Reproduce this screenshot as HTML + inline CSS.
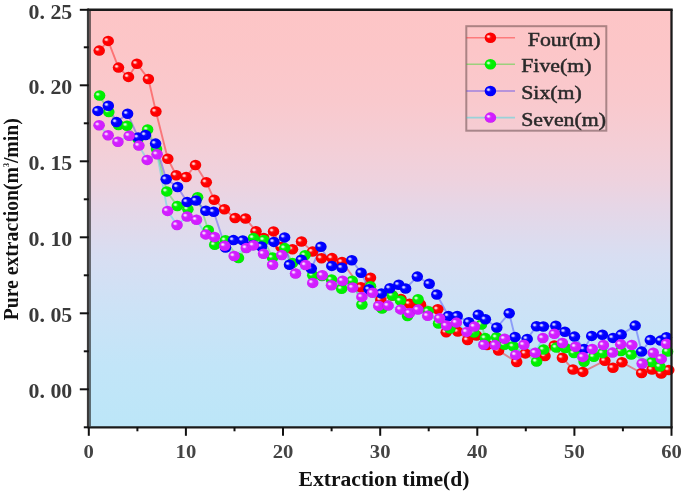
<!DOCTYPE html>
<html><head><meta charset="utf-8"><style>
html,body{margin:0;padding:0;background:#fff;}
body{width:685px;height:493px;overflow:hidden;position:relative;}
svg{position:absolute;left:0;top:0;filter:blur(0.5px);}
text{font-family:"Liberation Serif",serif;}
</style></head><body>
<svg width="685" height="493" viewBox="0 0 685 493">
<defs>
<linearGradient id="bg" x1="0" y1="0" x2="0" y2="1">
<stop offset="0" stop-color="#fdc5c6"/>
<stop offset="0.1" stop-color="#fcc6c8"/>
<stop offset="0.22" stop-color="#f9c9cd"/>
<stop offset="0.325" stop-color="#f4ced6"/>
<stop offset="0.408" stop-color="#eed2de"/>
<stop offset="0.47" stop-color="#e6d6e6"/>
<stop offset="0.59" stop-color="#d8def2"/>
<stop offset="0.71" stop-color="#cde2f6"/>
<stop offset="0.85" stop-color="#c2e5f8"/>
<stop offset="1" stop-color="#bce6f8"/>
</linearGradient>
<radialGradient id="hl" cx="0.5" cy="0.5" r="0.5">
<stop offset="0" stop-color="#ffffff" stop-opacity="0.9"/>
<stop offset="0.4" stop-color="#ffffff" stop-opacity="0.65"/>
<stop offset="1" stop-color="#ffffff" stop-opacity="0"/>
</radialGradient>
<radialGradient id="sr" cx="0.5" cy="0.5" r="0.5" fx="0.36" fy="0.38">
<stop offset="0" stop-color="#ff4040"/>
<stop offset="0.45" stop-color="#ff0000"/>
<stop offset="0.9" stop-color="#ff0000"/>
<stop offset="1" stop-color="#e60000"/>
</radialGradient>
<g id="mr"><ellipse cx="0" cy="0" rx="5.75" ry="5.25" fill="url(#sr)"/><ellipse cx="-2.0" cy="-1.3" rx="2.4" ry="2.0" fill="url(#hl)"/></g>
<radialGradient id="sg" cx="0.5" cy="0.5" r="0.5" fx="0.36" fy="0.38">
<stop offset="0" stop-color="#40f440"/>
<stop offset="0.45" stop-color="#00f000"/>
<stop offset="0.9" stop-color="#00f000"/>
<stop offset="1" stop-color="#00d300"/>
</radialGradient>
<g id="mg"><ellipse cx="0" cy="0" rx="5.75" ry="5.25" fill="url(#sg)"/><ellipse cx="-2.0" cy="-1.3" rx="2.4" ry="2.0" fill="url(#hl)"/></g>
<radialGradient id="sb" cx="0.5" cy="0.5" r="0.5" fx="0.36" fy="0.38">
<stop offset="0" stop-color="#4040ff"/>
<stop offset="0.45" stop-color="#0000ff"/>
<stop offset="0.9" stop-color="#0000ff"/>
<stop offset="1" stop-color="#0000df"/>
</radialGradient>
<g id="mb"><ellipse cx="0" cy="0" rx="5.75" ry="5.25" fill="url(#sb)"/><ellipse cx="-2.0" cy="-1.3" rx="2.4" ry="2.0" fill="url(#hl)"/></g>
<radialGradient id="sp" cx="0.5" cy="0.5" r="0.5" fx="0.36" fy="0.38">
<stop offset="0" stop-color="#dd56ff"/>
<stop offset="0.45" stop-color="#d21eff"/>
<stop offset="0.9" stop-color="#d21eff"/>
<stop offset="1" stop-color="#b812e6"/>
</radialGradient>
<g id="mp"><ellipse cx="0" cy="0" rx="5.75" ry="5.25" fill="url(#sp)"/><ellipse cx="-2.0" cy="-1.3" rx="2.4" ry="2.0" fill="url(#hl)"/></g>
</defs>
<rect x="88.8" y="9.3" width="582.7" height="418.0" fill="url(#bg)"/>
<polyline points="99.2,50.6 108.2,40.9 118.5,67.6 128.5,76.9 136.9,63.7 148.4,79.0 155.9,111.5 167.8,158.8 176.2,175.2 186.1,177.0 195.5,165.0 206.3,182.2 214.2,199.7 224.4,209.3 235.1,218.0 245.5,218.5 256.0,231.2 263.7,238.0 273.5,231.4 281.0,247.0 292.5,249.2 301.5,241.5 312.5,251.6 321.5,258.2 332.0,258.1 342.0,262.0 360.9,287.3 370.5,277.8 380.8,299.9 392.4,295.5 401.0,299.0 409.5,303.8 420.5,304.5 437.8,309.3 446.2,332.3 457.8,331.6 467.6,340.0 476.5,335.5 487.0,345.0 498.6,350.6 516.7,362.0 525.4,353.4 545.0,356.0 554.3,345.5 562.4,357.7 573.0,369.5 582.8,371.9 604.9,360.7 613.0,367.8 622.0,362.3 641.6,373.0 652.0,369.5 661.2,373.5 668.8,370.0" fill="none" stroke="#ff0000" stroke-opacity="0.42" stroke-width="1.9"/>
<polyline points="99.6,95.5 108.8,112.0 118.5,125.0 127.0,125.7 138.0,139.0 147.6,129.5 156.5,149.0 166.8,191.4 177.3,206.0 187.9,209.2 197.6,197.3 208.3,230.0 214.7,244.8 225.4,240.2 238.5,258.0 253.5,237.9 263.9,239.9 272.5,257.5 284.8,248.1 292.5,263.0 305.0,255.2 312.7,275.3 322.0,276.0 331.5,279.5 341.6,288.8 352.2,280.8 361.9,304.5 370.5,286.2 382.0,308.5 392.4,295.5 400.5,300.6 407.5,316.0 418.0,299.3 428.2,311.2 438.5,323.5 450.0,328.5 474.0,332.6 481.5,324.5 485.3,338.1 496.5,337.3 504.5,344.8 513.2,346.3 536.6,361.5 543.6,349.5 556.3,347.5 565.4,348.0 574.0,353.1 584.1,361.7 593.8,356.7 602.7,353.1 621.0,351.0 631.2,354.5 652.0,362.0 660.0,366.6 667.6,351.6" fill="none" stroke="#00e000" stroke-opacity="0.33" stroke-width="1.9"/>
<polyline points="97.9,110.9 108.3,105.7 116.5,122.1 127.6,113.8 138.1,137.4 145.5,135.0 155.6,143.6 166.2,179.2 177.6,187.0 187.1,201.9 196.0,200.5 205.8,210.8 213.7,211.8 225.5,247.5 233.5,240.1 242.8,240.4 253.0,245.0 261.5,246.5 273.9,241.9 284.6,237.4 289.5,264.8 301.3,259.7 311.3,268.6 320.9,246.8 331.8,265.9 342.0,267.7 351.8,260.2 361.1,272.8 369.0,289.3 381.4,293.4 389.9,288.2 398.8,284.7 405.6,288.5 417.3,276.6 429.2,283.8 436.8,294.5 448.4,316.0 457.2,316.0 468.8,322.2 478.3,314.7 485.4,319.3 496.8,327.5 509.2,313.3 515.0,337.0 527.2,338.9 536.5,326.3 543.4,326.5 555.8,325.7 564.9,331.8 574.5,336.6 584.1,349.1 591.7,335.9 602.4,334.8 613.0,337.9 621.2,334.6 635.2,325.6 641.6,351.6 650.3,340.1 660.7,340.6 666.4,337.2" fill="none" stroke="#1010ff" stroke-opacity="0.33" stroke-width="1.9"/>
<polyline points="99.1,125.2 108.1,135.2 117.9,141.7 129.2,135.7 138.9,145.6 147.2,159.9 157.1,154.2 167.6,210.9 177.0,225.0 187.1,216.5 196.5,219.8 205.8,234.4 214.5,237.0 224.7,245.8 234.2,256.0 246.3,248.0 253.4,245.3 263.5,253.7 272.6,264.7 281.8,255.0 295.5,273.5 305.5,265.0 312.7,282.9 322.3,275.3 331.5,285.2 342.6,280.7 352.7,287.5 361.9,296.9 372.5,292.8 378.7,305.8 388.1,305.6 400.7,309.4 409.5,313.0 418.0,309.6 427.7,315.8 439.6,318.3 446.4,325.6 456.4,322.6 466.7,331.9 474.4,326.5 483.8,344.7 495.0,345.1 504.6,338.7 515.7,354.9 523.9,344.8 535.3,352.8 542.9,338.0 554.3,333.8 562.4,343.0 575.5,346.7 582.8,356.9 592.2,349.0 603.4,345.0 612.5,352.6 620.7,344.2 631.8,344.9 642.2,363.5 653.2,352.7 661.2,358.9 666.4,343.7" fill="none" stroke="#00e0e8" stroke-opacity="0.33" stroke-width="1.9"/>
<use href="#mr" x="99.2" y="50.6"/><use href="#mr" x="108.2" y="40.9"/><use href="#mr" x="118.5" y="67.6"/><use href="#mr" x="128.5" y="76.9"/><use href="#mr" x="136.9" y="63.7"/><use href="#mr" x="148.4" y="79.0"/><use href="#mr" x="155.9" y="111.5"/><use href="#mr" x="167.8" y="158.8"/><use href="#mr" x="176.2" y="175.2"/><use href="#mr" x="186.1" y="177.0"/><use href="#mr" x="195.5" y="165.0"/><use href="#mr" x="206.3" y="182.2"/><use href="#mr" x="214.2" y="199.7"/><use href="#mr" x="224.4" y="209.3"/><use href="#mr" x="235.1" y="218.0"/><use href="#mr" x="245.5" y="218.5"/><use href="#mr" x="256.0" y="231.2"/><use href="#mr" x="263.7" y="238.0"/><use href="#mr" x="273.5" y="231.4"/><use href="#mr" x="281.0" y="247.0"/><use href="#mr" x="292.5" y="249.2"/><use href="#mr" x="301.5" y="241.5"/><use href="#mr" x="312.5" y="251.6"/><use href="#mr" x="321.5" y="258.2"/><use href="#mr" x="332.0" y="258.1"/><use href="#mr" x="342.0" y="262.0"/><use href="#mr" x="360.9" y="287.3"/><use href="#mr" x="370.5" y="277.8"/><use href="#mr" x="380.8" y="299.9"/><use href="#mr" x="392.4" y="295.5"/><use href="#mr" x="401.0" y="299.0"/><use href="#mr" x="409.5" y="303.8"/><use href="#mr" x="420.5" y="304.5"/><use href="#mr" x="437.8" y="309.3"/><use href="#mr" x="446.2" y="332.3"/><use href="#mr" x="457.8" y="331.6"/><use href="#mr" x="467.6" y="340.0"/><use href="#mr" x="476.5" y="335.5"/><use href="#mr" x="487.0" y="345.0"/><use href="#mr" x="498.6" y="350.6"/><use href="#mr" x="516.7" y="362.0"/><use href="#mr" x="525.4" y="353.4"/><use href="#mr" x="545.0" y="356.0"/><use href="#mr" x="554.3" y="345.5"/><use href="#mr" x="562.4" y="357.7"/><use href="#mr" x="573.0" y="369.5"/><use href="#mr" x="582.8" y="371.9"/><use href="#mr" x="604.9" y="360.7"/><use href="#mr" x="613.0" y="367.8"/><use href="#mr" x="622.0" y="362.3"/><use href="#mr" x="641.6" y="373.0"/><use href="#mr" x="652.0" y="369.5"/><use href="#mr" x="661.2" y="373.5"/><use href="#mr" x="668.8" y="370.0"/>
<use href="#mg" x="99.6" y="95.5"/><use href="#mg" x="108.8" y="112.0"/><use href="#mg" x="118.5" y="125.0"/><use href="#mg" x="127.0" y="125.7"/><use href="#mg" x="138.0" y="139.0"/><use href="#mg" x="147.6" y="129.5"/><use href="#mg" x="156.5" y="149.0"/><use href="#mg" x="166.8" y="191.4"/><use href="#mg" x="177.3" y="206.0"/><use href="#mg" x="187.9" y="209.2"/><use href="#mg" x="197.6" y="197.3"/><use href="#mg" x="208.3" y="230.0"/><use href="#mg" x="214.7" y="244.8"/><use href="#mg" x="225.4" y="240.2"/><use href="#mg" x="238.5" y="258.0"/><use href="#mg" x="253.5" y="237.9"/><use href="#mg" x="263.9" y="239.9"/><use href="#mg" x="272.5" y="257.5"/><use href="#mg" x="284.8" y="248.1"/><use href="#mg" x="292.5" y="263.0"/><use href="#mg" x="305.0" y="255.2"/><use href="#mg" x="312.7" y="275.3"/><use href="#mg" x="322.0" y="276.0"/><use href="#mg" x="331.5" y="279.5"/><use href="#mg" x="341.6" y="288.8"/><use href="#mg" x="352.2" y="280.8"/><use href="#mg" x="361.9" y="304.5"/><use href="#mg" x="370.5" y="286.2"/><use href="#mg" x="382.0" y="308.5"/><use href="#mg" x="392.4" y="295.5"/><use href="#mg" x="400.5" y="300.6"/><use href="#mg" x="407.5" y="316.0"/><use href="#mg" x="418.0" y="299.3"/><use href="#mg" x="428.2" y="311.2"/><use href="#mg" x="438.5" y="323.5"/><use href="#mg" x="450.0" y="328.5"/><use href="#mg" x="474.0" y="332.6"/><use href="#mg" x="481.5" y="324.5"/><use href="#mg" x="485.3" y="338.1"/><use href="#mg" x="496.5" y="337.3"/><use href="#mg" x="504.5" y="344.8"/><use href="#mg" x="513.2" y="346.3"/><use href="#mg" x="536.6" y="361.5"/><use href="#mg" x="543.6" y="349.5"/><use href="#mg" x="556.3" y="347.5"/><use href="#mg" x="565.4" y="348.0"/><use href="#mg" x="574.0" y="353.1"/><use href="#mg" x="584.1" y="361.7"/><use href="#mg" x="593.8" y="356.7"/><use href="#mg" x="602.7" y="353.1"/><use href="#mg" x="621.0" y="351.0"/><use href="#mg" x="631.2" y="354.5"/><use href="#mg" x="652.0" y="362.0"/><use href="#mg" x="660.0" y="366.6"/><use href="#mg" x="667.6" y="351.6"/>
<use href="#mb" x="97.9" y="110.9"/><use href="#mb" x="108.3" y="105.7"/><use href="#mb" x="116.5" y="122.1"/><use href="#mb" x="127.6" y="113.8"/><use href="#mb" x="138.1" y="137.4"/><use href="#mb" x="145.5" y="135.0"/><use href="#mb" x="155.6" y="143.6"/><use href="#mb" x="166.2" y="179.2"/><use href="#mb" x="177.6" y="187.0"/><use href="#mb" x="187.1" y="201.9"/><use href="#mb" x="196.0" y="200.5"/><use href="#mb" x="205.8" y="210.8"/><use href="#mb" x="213.7" y="211.8"/><use href="#mb" x="225.5" y="247.5"/><use href="#mb" x="233.5" y="240.1"/><use href="#mb" x="242.8" y="240.4"/><use href="#mb" x="253.0" y="245.0"/><use href="#mb" x="261.5" y="246.5"/><use href="#mb" x="273.9" y="241.9"/><use href="#mb" x="284.6" y="237.4"/><use href="#mb" x="289.5" y="264.8"/><use href="#mb" x="301.3" y="259.7"/><use href="#mb" x="311.3" y="268.6"/><use href="#mb" x="320.9" y="246.8"/><use href="#mb" x="331.8" y="265.9"/><use href="#mb" x="342.0" y="267.7"/><use href="#mb" x="351.8" y="260.2"/><use href="#mb" x="361.1" y="272.8"/><use href="#mb" x="369.0" y="289.3"/><use href="#mb" x="381.4" y="293.4"/><use href="#mb" x="389.9" y="288.2"/><use href="#mb" x="398.8" y="284.7"/><use href="#mb" x="405.6" y="288.5"/><use href="#mb" x="417.3" y="276.6"/><use href="#mb" x="429.2" y="283.8"/><use href="#mb" x="436.8" y="294.5"/><use href="#mb" x="448.4" y="316.0"/><use href="#mb" x="457.2" y="316.0"/><use href="#mb" x="468.8" y="322.2"/><use href="#mb" x="478.3" y="314.7"/><use href="#mb" x="485.4" y="319.3"/><use href="#mb" x="496.8" y="327.5"/><use href="#mb" x="509.2" y="313.3"/><use href="#mb" x="515.0" y="337.0"/><use href="#mb" x="527.2" y="338.9"/><use href="#mb" x="536.5" y="326.3"/><use href="#mb" x="543.4" y="326.5"/><use href="#mb" x="555.8" y="325.7"/><use href="#mb" x="564.9" y="331.8"/><use href="#mb" x="574.5" y="336.6"/><use href="#mb" x="584.1" y="349.1"/><use href="#mb" x="591.7" y="335.9"/><use href="#mb" x="602.4" y="334.8"/><use href="#mb" x="613.0" y="337.9"/><use href="#mb" x="621.2" y="334.6"/><use href="#mb" x="635.2" y="325.6"/><use href="#mb" x="641.6" y="351.6"/><use href="#mb" x="650.3" y="340.1"/><use href="#mb" x="660.7" y="340.6"/><use href="#mb" x="666.4" y="337.2"/>
<use href="#mp" x="99.1" y="125.2"/><use href="#mp" x="108.1" y="135.2"/><use href="#mp" x="117.9" y="141.7"/><use href="#mp" x="129.2" y="135.7"/><use href="#mp" x="138.9" y="145.6"/><use href="#mp" x="147.2" y="159.9"/><use href="#mp" x="157.1" y="154.2"/><use href="#mp" x="167.6" y="210.9"/><use href="#mp" x="177.0" y="225.0"/><use href="#mp" x="187.1" y="216.5"/><use href="#mp" x="196.5" y="219.8"/><use href="#mp" x="205.8" y="234.4"/><use href="#mp" x="214.5" y="237.0"/><use href="#mp" x="224.7" y="245.8"/><use href="#mp" x="234.2" y="256.0"/><use href="#mp" x="246.3" y="248.0"/><use href="#mp" x="253.4" y="245.3"/><use href="#mp" x="263.5" y="253.7"/><use href="#mp" x="272.6" y="264.7"/><use href="#mp" x="281.8" y="255.0"/><use href="#mp" x="295.5" y="273.5"/><use href="#mp" x="305.5" y="265.0"/><use href="#mp" x="312.7" y="282.9"/><use href="#mp" x="322.3" y="275.3"/><use href="#mp" x="331.5" y="285.2"/><use href="#mp" x="342.6" y="280.7"/><use href="#mp" x="352.7" y="287.5"/><use href="#mp" x="361.9" y="296.9"/><use href="#mp" x="372.5" y="292.8"/><use href="#mp" x="378.7" y="305.8"/><use href="#mp" x="388.1" y="305.6"/><use href="#mp" x="400.7" y="309.4"/><use href="#mp" x="409.5" y="313.0"/><use href="#mp" x="418.0" y="309.6"/><use href="#mp" x="427.7" y="315.8"/><use href="#mp" x="439.6" y="318.3"/><use href="#mp" x="446.4" y="325.6"/><use href="#mp" x="456.4" y="322.6"/><use href="#mp" x="466.7" y="331.9"/><use href="#mp" x="474.4" y="326.5"/><use href="#mp" x="483.8" y="344.7"/><use href="#mp" x="495.0" y="345.1"/><use href="#mp" x="504.6" y="338.7"/><use href="#mp" x="515.7" y="354.9"/><use href="#mp" x="523.9" y="344.8"/><use href="#mp" x="535.3" y="352.8"/><use href="#mp" x="542.9" y="338.0"/><use href="#mp" x="554.3" y="333.8"/><use href="#mp" x="562.4" y="343.0"/><use href="#mp" x="575.5" y="346.7"/><use href="#mp" x="582.8" y="356.9"/><use href="#mp" x="592.2" y="349.0"/><use href="#mp" x="603.4" y="345.0"/><use href="#mp" x="612.5" y="352.6"/><use href="#mp" x="620.7" y="344.2"/><use href="#mp" x="631.8" y="344.9"/><use href="#mp" x="642.2" y="363.5"/><use href="#mp" x="653.2" y="352.7"/><use href="#mp" x="661.2" y="358.9"/><use href="#mp" x="666.4" y="343.7"/>
<line x1="87.8" y1="9.8" x2="672.7" y2="9.8" stroke="#1a1a1a" stroke-width="2.4"/><line x1="671.5" y1="9.8" x2="671.5" y2="427.3" stroke="#1a1a1a" stroke-width="2.3"/><line x1="88.8" y1="427.3" x2="672.7" y2="427.3" stroke="#1a1a1a" stroke-width="2.3"/>
<line x1="88" y1="8.6" x2="88" y2="428.3" stroke="#3a3a3a" stroke-width="2.2"/><line x1="90" y1="10.5" x2="90" y2="426.3" stroke="#1c1c1c" stroke-opacity="0.6" stroke-width="2"/>
<line x1="79.8" y1="9.8" x2="88.8" y2="9.8" stroke="#111" stroke-width="2"/><line x1="83.8" y1="47.3" x2="88.8" y2="47.3" stroke="#111" stroke-width="2"/><line x1="79.8" y1="85.3" x2="88.8" y2="85.3" stroke="#111" stroke-width="2"/><line x1="83.8" y1="123.3" x2="88.8" y2="123.3" stroke="#111" stroke-width="2"/><line x1="79.8" y1="161.3" x2="88.8" y2="161.3" stroke="#111" stroke-width="2"/><line x1="83.8" y1="199.3" x2="88.8" y2="199.3" stroke="#111" stroke-width="2"/><line x1="79.8" y1="237.3" x2="88.8" y2="237.3" stroke="#111" stroke-width="2"/><line x1="83.8" y1="275.3" x2="88.8" y2="275.3" stroke="#111" stroke-width="2"/><line x1="79.8" y1="313.3" x2="88.8" y2="313.3" stroke="#111" stroke-width="2"/><line x1="83.8" y1="351.3" x2="88.8" y2="351.3" stroke="#111" stroke-width="2"/><line x1="79.8" y1="389.3" x2="88.8" y2="389.3" stroke="#111" stroke-width="2"/><line x1="83.8" y1="427.3" x2="88.8" y2="427.3" stroke="#111" stroke-width="2"/>
<line x1="88.8" y1="427.3" x2="88.8" y2="435.8" stroke="#111" stroke-width="2"/><line x1="137.4" y1="427.3" x2="137.4" y2="431.3" stroke="#111" stroke-width="2"/><line x1="185.9" y1="427.3" x2="185.9" y2="435.8" stroke="#111" stroke-width="2"/><line x1="234.5" y1="427.3" x2="234.5" y2="431.3" stroke="#111" stroke-width="2"/><line x1="283.0" y1="427.3" x2="283.0" y2="435.8" stroke="#111" stroke-width="2"/><line x1="331.6" y1="427.3" x2="331.6" y2="431.3" stroke="#111" stroke-width="2"/><line x1="380.2" y1="427.3" x2="380.2" y2="435.8" stroke="#111" stroke-width="2"/><line x1="428.7" y1="427.3" x2="428.7" y2="431.3" stroke="#111" stroke-width="2"/><line x1="477.3" y1="427.3" x2="477.3" y2="435.8" stroke="#111" stroke-width="2"/><line x1="525.8" y1="427.3" x2="525.8" y2="431.3" stroke="#111" stroke-width="2"/><line x1="574.4" y1="427.3" x2="574.4" y2="435.8" stroke="#111" stroke-width="2"/><line x1="622.9" y1="427.3" x2="622.9" y2="431.3" stroke="#111" stroke-width="2"/><line x1="671.5" y1="427.3" x2="671.5" y2="435.8" stroke="#111" stroke-width="2"/>
<text x="72.2" y="18.6" text-anchor="end" font-size="20.5" font-weight="bold" fill="#3a3a3a" transform="translate(72.2 0) scale(1.065 1) translate(-72.2 0)">0. 25</text><text x="72.2" y="94.1" text-anchor="end" font-size="20.5" font-weight="bold" fill="#3a3a3a" transform="translate(72.2 0) scale(1.065 1) translate(-72.2 0)">0. 20</text><text x="72.2" y="170.1" text-anchor="end" font-size="20.5" font-weight="bold" fill="#3a3a3a" transform="translate(72.2 0) scale(1.065 1) translate(-72.2 0)">0. 15</text><text x="72.2" y="246.1" text-anchor="end" font-size="20.5" font-weight="bold" fill="#3a3a3a" transform="translate(72.2 0) scale(1.065 1) translate(-72.2 0)">0. 10</text><text x="72.2" y="322.1" text-anchor="end" font-size="20.5" font-weight="bold" fill="#3a3a3a" transform="translate(72.2 0) scale(1.065 1) translate(-72.2 0)">0. 05</text><text x="72.2" y="398.1" text-anchor="end" font-size="20.5" font-weight="bold" fill="#3a3a3a" transform="translate(72.2 0) scale(1.065 1) translate(-72.2 0)">0. 00</text>
<text x="88.8" y="457.8" text-anchor="middle" font-size="19.5" font-weight="bold" fill="#444" transform="translate(88.8 0) scale(1.06 1) translate(-88.8 0)">0</text><text x="185.9" y="457.8" text-anchor="middle" font-size="19.5" font-weight="bold" fill="#444" transform="translate(185.9 0) scale(1.06 1) translate(-185.9 0)">10</text><text x="283.0" y="457.8" text-anchor="middle" font-size="19.5" font-weight="bold" fill="#444" transform="translate(283.0 0) scale(1.06 1) translate(-283.0 0)">20</text><text x="380.2" y="457.8" text-anchor="middle" font-size="19.5" font-weight="bold" fill="#444" transform="translate(380.2 0) scale(1.06 1) translate(-380.2 0)">30</text><text x="477.3" y="457.8" text-anchor="middle" font-size="19.5" font-weight="bold" fill="#444" transform="translate(477.3 0) scale(1.06 1) translate(-477.3 0)">40</text><text x="574.4" y="457.8" text-anchor="middle" font-size="19.5" font-weight="bold" fill="#444" transform="translate(574.4 0) scale(1.06 1) translate(-574.4 0)">50</text><text x="671.5" y="457.8" text-anchor="middle" font-size="19.5" font-weight="bold" fill="#444" transform="translate(671.5 0) scale(1.06 1) translate(-671.5 0)">60</text>
<text x="384" y="486" text-anchor="middle" font-size="20" font-weight="bold" fill="#111" transform="translate(384 0) scale(1.08 1) translate(-384 0)">Extraction time(d)</text>
<text transform="translate(18.4 219.3) rotate(-90) scale(1 1.06)" x="0" y="0" text-anchor="middle" font-size="19.7" font-weight="bold" fill="#111">Pure extraction(m<tspan font-size="8" dy="-9">3</tspan><tspan dy="9">/min)</tspan></text>
<rect x="466.3" y="26.2" width="140" height="104.5" fill="none" stroke="#4a3030" stroke-opacity="0.45" stroke-width="2"/>
<line x1="466.5" y1="37.8" x2="515" y2="37.8" stroke="#ff0000" stroke-opacity="0.38" stroke-width="1.6"/><use href="#mr" x="490.4" y="37.8"/><text x="522.3" y="46.0" font-size="19.5" fill="#2a2a2a" stroke="#2a2a2a" stroke-width="0.5" xml:space="preserve" transform="translate(522.3 0) scale(1.12 1) translate(-522.3 0)"> Four(m)</text>
<line x1="466.5" y1="64.3" x2="515" y2="64.3" stroke="#00e000" stroke-opacity="0.38" stroke-width="1.6"/><use href="#mg" x="490.4" y="64.3"/><text x="521.2" y="72.5" font-size="19.5" fill="#2a2a2a" stroke="#2a2a2a" stroke-width="0.5" xml:space="preserve" transform="translate(521.2 0) scale(1.12 1) translate(-521.2 0)">Five(m)</text>
<line x1="466.5" y1="91.0" x2="515" y2="91.0" stroke="#1010ff" stroke-opacity="0.38" stroke-width="1.6"/><use href="#mb" x="490.4" y="91.0"/><text x="521.2" y="99.2" font-size="19.5" fill="#2a2a2a" stroke="#2a2a2a" stroke-width="0.5" xml:space="preserve" transform="translate(521.2 0) scale(1.12 1) translate(-521.2 0)">Six(m)</text>
<line x1="466.5" y1="117.6" x2="515" y2="117.6" stroke="#00e0e8" stroke-opacity="0.38" stroke-width="1.6"/><use href="#mp" x="490.4" y="117.6"/><text x="521.2" y="125.8" font-size="19.5" fill="#2a2a2a" stroke="#2a2a2a" stroke-width="0.5" xml:space="preserve" transform="translate(521.2 0) scale(1.12 1) translate(-521.2 0)">Seven(m)</text>
</svg>
</body></html>
